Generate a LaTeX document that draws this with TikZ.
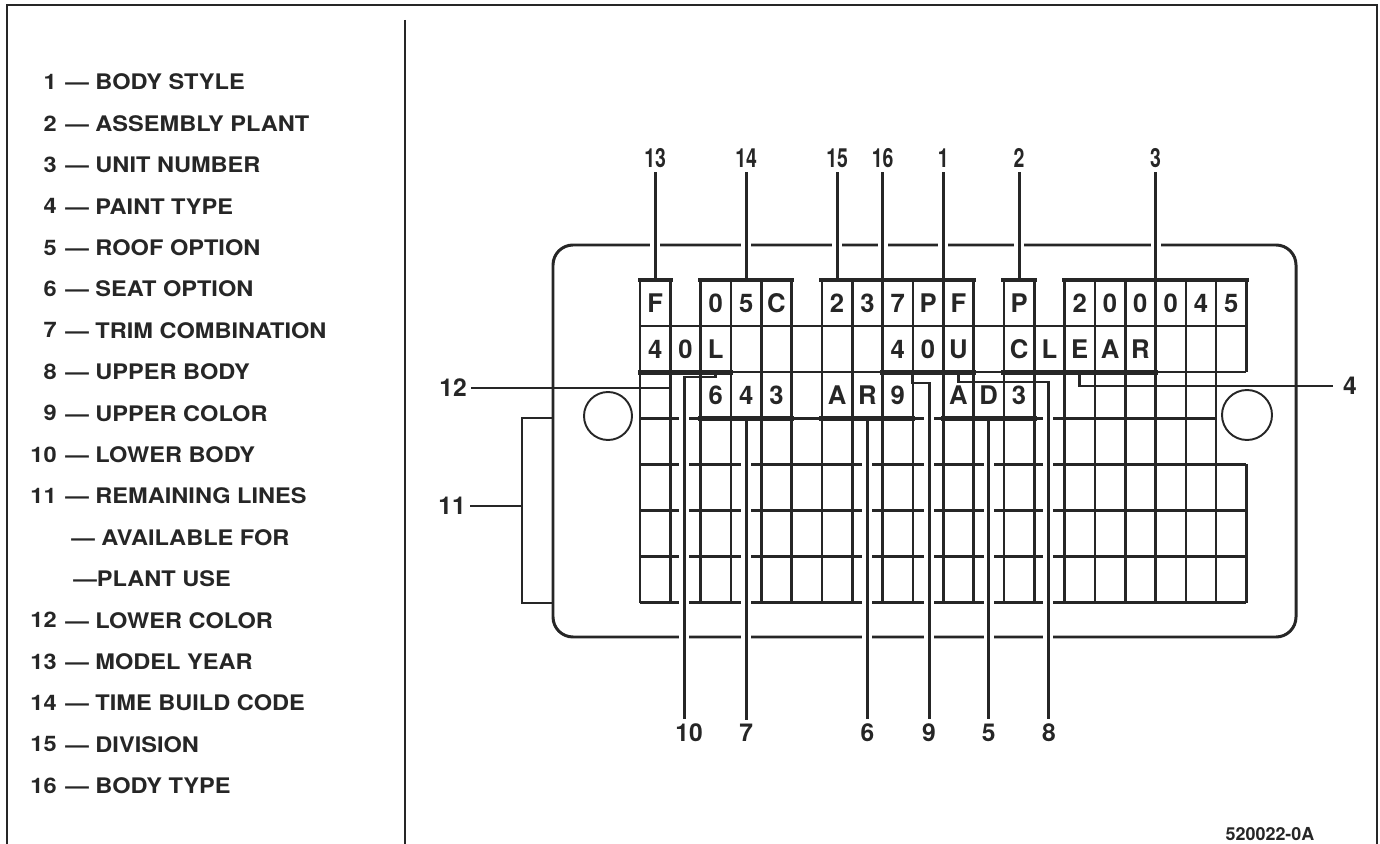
\documentclass[tikz,border=0pt]{standalone}
\usepackage{fontspec}
\setmainfont{TeX Gyre Heros}
\newfontfamily\keyfont[FakeStretch=1.1]{TeX Gyre Heros}
\newfontfamily\narrowfont[FakeStretch=0.74]{TeX Gyre Heros}
\usetikzlibrary{positioning}
\definecolor{ink}{RGB}{38,38,38}
\tikzset{
  border/.style={draw=ink,line width=1.6pt},
  plate/.style={draw=ink,line width=1.7pt,rounded corners=0.4cm},
  hole/.style={draw=ink,line width=1.1pt},
  cellline/.style={draw=ink,line width=1.5pt},
  groupline/.style={draw=ink,line width=2.8pt,line cap=rect},
  leader/.style={draw=ink,line width=1.7pt},
  gap/.style={draw=white,line width=5.7pt},
  keyno/.style={anchor=east,inner sep=0pt,text=ink,font=\keyfont\bfseries\fontsize{12.2}{14}\selectfont},
  keytext/.style={anchor=west,inner sep=0pt,text=ink,font=\keyfont\bfseries\fontsize{12.2}{14}\selectfont},
  topcall/.style={inner sep=2.5pt,text=ink,font=\narrowfont\bfseries\fontsize{15}{17}\selectfont},
  callout/.style={inner sep=2.5pt,text=ink,font=\bfseries\fontsize{14}{16}\selectfont},
  char/.style={inner sep=0pt,text=ink,font=\bfseries\fontsize{14.6}{16}\selectfont}
}
\begin{document}
\begin{tikzpicture}[x=0.02cm,y=-0.02cm]
\useasboundingbox (0,0) rectangle (1380,844);
\draw[border] (7,844) -- (7,5) -- (1377,5) -- (1377,844);
\draw[border] (405,20) -- (405,844);

\foreach \n/\t [count=\k from 0] in {1/BODY STYLE,2/ASSEMBLY PLANT,3/UNIT NUMBER,4/PAINT TYPE,5/ROOF OPTION,6/SEAT OPTION,7/TRIM COMBINATION,8/UPPER BODY,9/UPPER COLOR,10/LOWER BODY,11/REMAINING LINES}{
  \node[keyno] (keyno\n) at (57,{82+41.4*\k}) {\n};
  \node[keytext] (key\n) at (65,{82+41.4*\k}) {— \t};
}
\node[keytext] (key11b) at (71,{82+41.4*11}) {— AVAILABLE FOR};
\node[keytext] (key11c) at (73,{82+41.4*12}) {—PLANT USE};
\foreach \n/\t [count=\k from 13] in {12/LOWER COLOR,13/MODEL YEAR,14/TIME BUILD CODE,15/DIVISION,16/BODY TYPE}{
  \node[keyno] (keyno\n) at (57,{82+41.4*\k}) {\n};
  \node[keytext] (key\n) at (65,{82+41.4*\k}) {— \t};
}

\draw[plate] (553,245) rectangle (1296,637);
\draw[hole] (608,416) circle[radius=24];
\draw[hole] (1247,415) circle[radius=25];

\begin{scope}[shift={(640,280)},x=0.6066cm,y=-0.922cm]
\foreach \i in {0,...,20} \draw[cellline] (\i,0) -- (\i,2);
\foreach \i in {0,...,19} \draw[cellline] (\i,2) -- (\i,7);
\draw[cellline] (20,4) -- (20,7);
\draw[cellline] (0,1) -- (20,1) (0,2) -- (20,2) (0,3) -- (19,3);
\foreach \j in {4,...,7} \draw[cellline] (0,\j) -- (20,\j);
\foreach \a/\b in {0/1,2/5,6/11,12/13,14/20} \draw[groupline] (\a,0) -- (\b,0);
\foreach \a/\b in {0/3,8/11,12/17} \draw[groupline] (\a,2) -- (\b,2);
\foreach \a/\b in {2/5,6/9,10/13} \draw[groupline] (\a,3) -- (\b,3);
\foreach \c/\i in {F/0,0/2,5/3,C/4,2/6,3/7,7/8,P/9,F/10,P/12,2/14,0/15,0/16,0/17,4/18,5/19}
  \node[char] (a\i) at (\i+.5,.5) {\c};
\foreach \c/\i in {4/0,0/1,L/2,4/8,0/9,U/10,C/12,L/13,E/14,A/15,R/16}
  \node[char] (b\i) at (\i+.5,1.5) {\c};
\foreach \c/\i in {6/2,4/3,3/4,A/6,R/7,9/8,A/10,D/11,3/12}
  \node[char] (c\i) at (\i+.5,2.5) {\c};
\coordinate (t13) at (0.5,0);
\coordinate (t14) at (3.5,0);
\coordinate (t15) at (6.5,0);
\coordinate (t16) at (8,0);
\coordinate (t1) at (10,0);
\coordinate (t2) at (12.5,0);
\coordinate (t3) at (17,0);
\coordinate (t12) at (1,2);
\coordinate (t10) at (2.5,2);
\coordinate (t9) at (9,2);
\coordinate (t8) at (10.5,2);
\coordinate (t4) at (14.5,2);
\coordinate (t7) at (3.5,3);
\coordinate (t6) at (7.5,3);
\coordinate (t5) at (11.5,3);
\end{scope}

\coordinate (toprow) at (0,158);
\coordinate (botrow) at (0,733);
\foreach \n in {13,14,15,16,1,2,3}{
  \node[topcall] (n\n) at (t\n |- toprow) {\n};
  \draw[gap] (t\n) ++(0,-45) -- ++(0,20);
  \draw[leader] (n\n) -- (t\n);
}

\foreach \n in {7,6,5}{
  \node[callout] (n\n) at (t\n |- botrow) {\n};
  \draw[gap] (t\n) ++(0,8) -- (t\n |- n\n.north);
  \draw[leader] (t\n) -- (t\n |- n\n.north);
}
\coordinate (b10) at (684,377);
\coordinate (b9) at (929,383);
\coordinate (b8) at (1048,382);
\node[callout] (n10) at (689,733) {10};
\node[callout] (n9) at (929,733) {9};
\node[callout] (n8) at (1049,733) {8};
\foreach \n in {10,9,8}{
  \draw[gap] (b\n) ++(0,12) -- (b\n |- n\n.north);
  \draw[leader] (t\n) |- (b\n) -- (b\n |- n\n.north);
}

\coordinate (b4) at (1333,386);
\node[callout,right=3pt of b4] (n4) {4};
\draw[leader] (t4) |- (b4);

\node[callout] (n12) at (453,388) {12};
\draw[leader] (t12) |- (n12);

\node[callout] (n11) at (452,506) {11};
\coordinate (b11) at (522,506);
\draw[leader] (n11) -- (b11);
\draw[leader] (553,418) -| (b11) |- (553,603);

\node[anchor=south,inner sep=0pt,text=ink,font=\bfseries\fontsize{10.2}{12}\selectfont] (figid) at (1270,841) {520022-0A};
\end{tikzpicture}
\end{document}
